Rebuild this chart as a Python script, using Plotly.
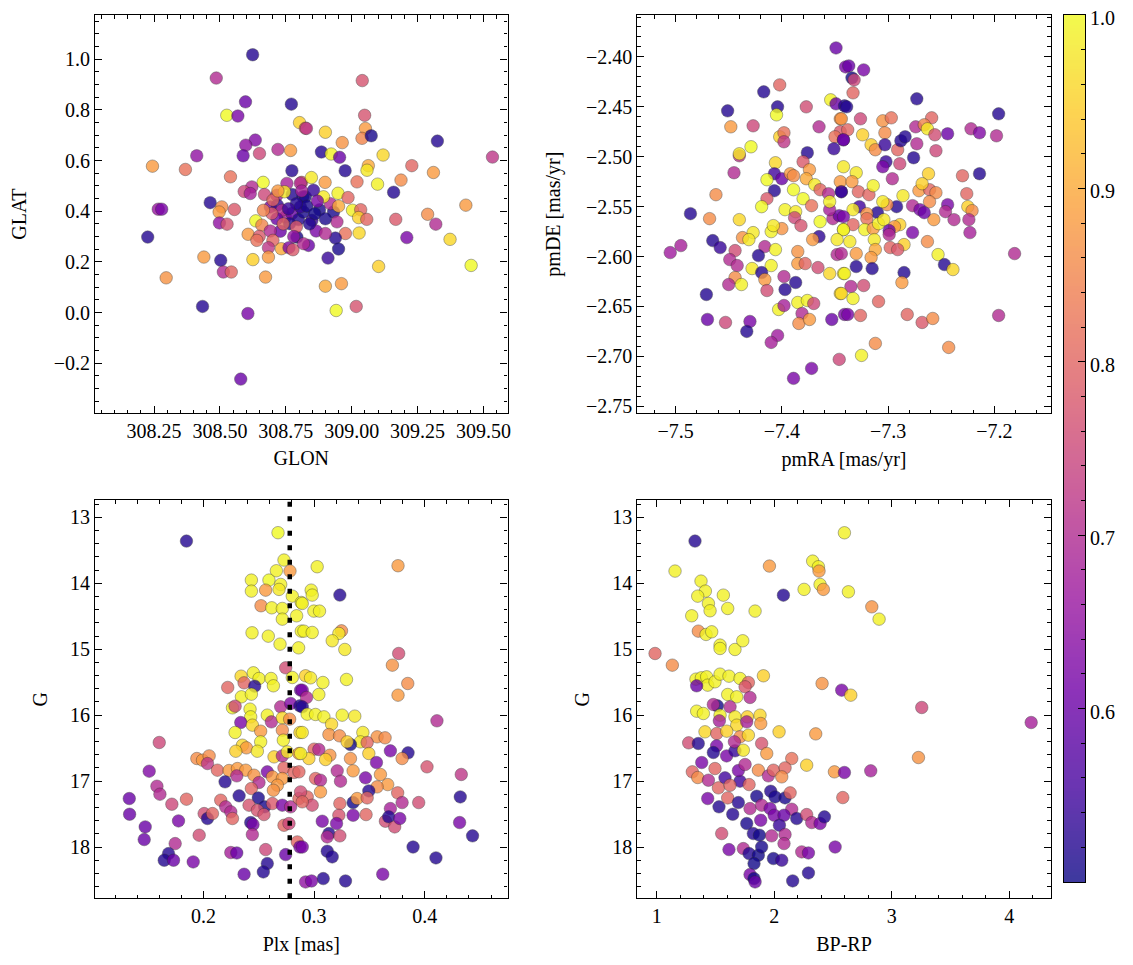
import numpy as np
import plotly.graph_objects as go

# ---------------- data ----------------
# Panel 1: GLON / GLAT / membership probability
glon = [308.624, 308.486, 308.597, 308.771, 308.526, 308.568, 308.802, 308.824, 308.634, 308.598,
        308.588, 308.650, 308.720, 308.768, 308.412, 308.244, 308.369, 308.540, 308.773, 308.664,
        308.754, 308.810, 308.621, 308.592, 308.615, 308.669, 308.716, 308.774, 308.815, 308.463,
        308.266, 308.279, 308.507, 308.497, 308.555, 308.498, 308.527, 308.636, 308.691, 308.718,
        308.748, 308.773, 308.798, 308.659, 308.729, 308.607, 308.649, 308.691, 308.792, 308.226,
        308.701, 308.684, 308.733, 308.762, 308.777, 308.439, 308.625, 308.684, 308.503, 308.513,
        308.543, 308.296, 308.673, 308.434, 308.606, 308.579, 309.040, 309.049, 309.052, 309.039,
        309.074, 308.900, 308.828, 308.964, 308.885, 308.922, 308.954, 308.975, 309.119, 309.063,
        309.058, 309.228, 309.325, 309.534, 309.310, 309.020, 309.098, 309.187, 309.159, 308.847,
        308.899, 308.948, 308.986, 309.003, 309.034, 309.026, 309.057, 309.167, 309.288, 309.433,
        309.319, 309.209, 309.373, 309.028, 308.976, 308.938, 308.950, 308.910, 309.102, 309.453,
        308.900, 308.961, 308.941, 309.017, 308.824, 308.817, 308.849, 308.878, 308.931, 308.944,
        308.865, 308.900, 308.836, 308.919, 308.855, 308.893, 308.805, 308.805, 308.764, 308.735,
        308.716, 308.697, 308.701, 308.745, 308.665, 308.640, 308.817, 308.790,
        308.830, 308.860, 308.790, 308.760, 308.840, 308.870, 308.810, 308.740, 308.900, 308.780,
        308.720, 308.950]
glat = [1.018, 0.926, 0.832, 0.823, 0.779, 0.776, 0.750, 0.728, 0.681, 0.661,
        0.619, 0.628, 0.644, 0.640, 0.619, 0.578, 0.565, 0.536, 0.560, 0.514,
        0.510, 0.514, 0.496, 0.478, 0.470, 0.466, 0.463, 0.466, 0.457, 0.434,
        0.408, 0.408, 0.417, 0.397, 0.407, 0.354, 0.349, 0.362, 0.417, 0.424,
        0.377, 0.391, 0.367, 0.345, 0.321, 0.309, 0.301, 0.322, 0.298, 0.298,
        0.285, 0.256, 0.252, 0.256, 0.248, 0.219, 0.209, 0.219, 0.206, 0.160,
        0.160, 0.137, 0.140, 0.024, -0.004, -0.263, 0.916, 0.779, 0.727, 0.688,
        0.698, 0.712, 0.727, 0.671, 0.634, 0.626, 0.613, 0.560, 0.622, 0.580,
        0.562, 0.580, 0.677, 0.614, 0.553, 0.516, 0.507, 0.523, 0.475, 0.533,
        0.514, 0.471, 0.454, 0.404, 0.406, 0.375, 0.368, 0.368, 0.388, 0.424,
        0.349, 0.296, 0.289, 0.314, 0.312, 0.294, 0.251, 0.215, 0.182, 0.186,
        0.104, 0.114, 0.008, 0.024, 0.457, 0.397, 0.364, 0.406, 0.397, 0.358,
        0.322, 0.312, 0.265, 0.430, 0.483, 0.457, 0.511, 0.417, 0.351, 0.404,
        0.370, 0.391, 0.444, 0.477, 0.404, 0.285, 0.272, 0.338,
        0.420, 0.390, 0.430, 0.410, 0.350, 0.440, 0.480, 0.350, 0.370, 0.300,
        0.480, 0.420]
prob1 = [0.52, 0.70, 0.60, 0.52, 1.00, 0.62, 0.95, 0.78, 0.63, 0.65,
         0.60, 0.75, 0.70, 0.88, 0.65, 0.88, 0.82, 0.82, 0.52, 1.00,
         0.68, 0.78, 0.70, 0.75, 0.68, 0.75, 0.68, 0.52, 0.51, 0.52,
         0.66, 0.62, 0.86, 0.88, 0.78, 0.65, 0.77, 1.00, 0.62, 0.54,
         0.68, 0.60, 0.52, 0.85, 0.60, 0.88, 0.78, 0.70, 0.51, 0.52,
         0.80, 0.72, 0.90, 0.63, 0.78, 0.88, 0.95, 0.88, 0.52, 0.70,
         0.80, 0.87, 0.88, 0.52, 0.62, 0.60, 0.77, 0.77, 0.88, 0.85,
         0.51, 0.95, 0.72, 0.87, 0.52, 0.99, 0.60, 0.52, 0.96, 0.90,
         0.98, 0.80, 0.52, 0.72, 0.88, 0.82, 0.99, 0.86, 0.52, 0.98,
         0.88, 0.99, 0.80, 0.99, 0.80, 0.95, 0.80, 0.78, 0.86, 0.88,
         0.70, 0.62, 0.96, 0.96, 0.82, 0.52, 0.51, 0.54, 0.95, 1.00,
         0.90, 0.88, 1.00, 0.77, 0.51, 0.51, 0.54, 0.51, 0.51, 0.70,
         0.62, 0.70, 0.60, 0.70, 0.54, 0.98, 0.70, 0.54, 0.52, 0.70,
         0.60, 0.78, 0.80, 0.98, 0.85, 0.82, 0.70, 0.78,
         0.51, 0.505, 0.52, 0.54, 0.52, 0.62, 0.68, 0.80, 0.51, 0.65,
         0.88, 0.90]

# Panel 2: proper motions
pmra = [-7.349, -7.340, -7.417, -7.402, -7.451, -7.404, -7.405, -7.377, -7.354, -7.349,
        -7.341, -7.448, -7.427, -7.365, -7.345, -7.345, -7.402, -7.398, -7.398, -7.350,
        -7.342, -7.429, -7.440, -7.440, -7.376, -7.351, -7.380, -7.374, -7.377, -7.445,
        -7.406, -7.407, -7.400, -7.414, -7.392, -7.389, -7.389, -7.407, -7.414, -7.419,
        -7.462, -7.486, -7.468, -7.440, -7.397, -7.387, -7.388, -7.382, -7.380, -7.372,
        -7.369, -7.364, -7.356, -7.344, -7.345, -7.364, -7.352, -7.346, -7.342, -7.365,
        -7.371, -7.400, -7.410, -7.408, -7.427, -7.437, -7.431, -7.465, -7.458, -7.495,
        -7.505, -7.444, -7.416, -7.406, -7.422, -7.449, -7.442, -7.428, -7.410, -7.385,
        -7.385, -7.378, -7.366, -7.355, -7.342, -7.348, -7.419, -7.444, -7.450, -7.438,
        -7.416, -7.414, -7.398, -7.397, -7.387, -7.345, -7.471, -7.403, -7.398, -7.385,
        -7.376, -7.370, -7.381, -7.384, -7.374, -7.470, -7.453, -7.430, -7.433, -7.404,
        -7.410, -7.353, -7.341, -7.346, -7.372, -7.389, -7.337, -7.323, -7.334, -7.332,
        -7.333, -7.339, -7.273, -7.196, -7.326, -7.344, -7.305, -7.297, -7.259, -7.274,
        -7.266, -7.263, -7.256, -7.244, -7.222, -7.214, -7.198, -7.324, -7.303, -7.338,
        -7.342, -7.316, -7.312, -7.303, -7.291, -7.288, -7.284, -7.273, -7.255, -7.276,
        -7.302, -7.305, -7.289, -7.296, -7.262, -7.230, -7.214, -7.342, -7.330, -7.334,
        -7.344, -7.328, -7.318, -7.314, -7.286, -7.271, -7.261, -7.255, -7.268, -7.226,
        -7.225, -7.221, -7.224, -7.223, -7.244, -7.246, -7.238, -7.257, -7.261, -7.277,
        -7.270, -7.266, -7.292, -7.310, -7.301, -7.305, -7.327, -7.333, -7.320, -7.333,
        -7.342, -7.320, -7.342, -7.322, -7.314, -7.309, -7.304, -7.289, -7.294, -7.299,
        -7.299, -7.277, -7.263, -7.285, -7.298, -7.291, -7.313, -7.312, -7.336, -7.330,
        -7.344, -7.316, -7.253, -7.247, -7.239, -7.181, -7.330, -7.315, -7.285, -7.287,
        -7.341, -7.335, -7.323, -7.344, -7.333, -7.309, -7.338, -7.326, -7.282, -7.268,
        -7.258, -7.196, -7.312, -7.325, -7.243, -7.355, -7.348, -7.355]
pmde = [-2.391, -2.410, -2.435, -2.428, -2.454, -2.450, -2.458, -2.450, -2.443, -2.447,
        -2.449, -2.470, -2.469, -2.470, -2.462, -2.475, -2.480, -2.476, -2.485, -2.480,
        -2.483, -2.490, -2.499, -2.497, -2.496, -2.492, -2.505, -2.513, -2.522, -2.516,
        -2.506, -2.517, -2.522, -2.523, -2.517, -2.519, -2.533, -2.534, -2.542, -2.550,
        -2.538, -2.557, -2.562, -2.563, -2.553, -2.555, -2.561, -2.569, -2.542, -2.549,
        -2.528, -2.533, -2.537, -2.535, -2.525, -2.565, -2.562, -2.559, -2.573, -2.580,
        -2.583, -2.572, -2.575, -2.569, -2.576, -2.581, -2.583, -2.584, -2.591, -2.589,
        -2.596, -2.594, -2.590, -2.593, -2.599, -2.603, -2.609, -2.612, -2.609, -2.595,
        -2.607, -2.607, -2.611, -2.617, -2.617, -2.598, -2.616, -2.621, -2.628, -2.628,
        -2.623, -2.634, -2.620, -2.633, -2.626, -2.637, -2.638, -2.653, -2.649, -2.646,
        -2.644, -2.647, -2.657, -2.667, -2.663, -2.663, -2.666, -2.665, -2.675, -2.679,
        -2.686, -2.663, -2.658, -2.703, -2.712, -2.722, -2.409, -2.413, -2.421, -2.423,
        -2.436, -2.450, -2.442, -2.457, -2.462, -2.462, -2.464, -2.461, -2.461, -2.470,
        -2.468, -2.472, -2.478, -2.477, -2.472, -2.476, -2.479, -2.478, -2.476, -2.473,
        -2.483, -2.488, -2.493, -2.488, -2.493, -2.484, -2.480, -2.487, -2.494, -2.501,
        -2.505, -2.510, -2.507, -2.522, -2.517, -2.519, -2.517, -2.510, -2.516, -2.525,
        -2.535, -2.535, -2.538, -2.529, -2.539, -2.534, -2.533, -2.536, -2.527, -2.537,
        -2.550, -2.554, -2.563, -2.576, -2.548, -2.555, -2.563, -2.563, -2.545, -2.549,
        -2.553, -2.556, -2.550, -2.556, -2.548, -2.545, -2.550, -2.553, -2.557, -2.568,
        -2.560, -2.562, -2.573, -2.573, -2.572, -2.567, -2.563, -2.568, -2.570, -2.574,
        -2.578, -2.576, -2.585, -2.588, -2.591, -2.593, -2.583, -2.593, -2.585, -2.597,
        -2.597, -2.601, -2.598, -2.608, -2.613, -2.597, -2.610, -2.612, -2.616, -2.626,
        -2.617, -2.630, -2.629, -2.637, -2.642, -2.645, -2.658, -2.659, -2.658, -2.666,
        -2.662, -2.659, -2.687, -2.699, -2.691, -2.553, -2.583, -2.545]
prob2 = [0.60, 0.62, 0.52, 0.80, 0.52, 0.52, 1.00, 0.76, 0.99, 0.60,
         0.52, 0.88, 0.75, 0.70, 0.87, 0.78, 0.95, 0.82, 0.72, 0.82,
         0.60, 1.00, 0.72, 0.98, 0.52, 0.54, 0.78, 0.88, 0.90, 0.70,
         0.96, 0.55, 0.60, 1.00, 0.88, 0.86, 1.00, 0.52, 0.78, 1.00,
         0.86, 0.52, 0.86, 0.96, 0.99, 0.98, 0.75, 0.77, 1.00, 0.82,
         0.98, 0.80, 0.70, 0.54, 0.88, 1.00, 0.70, 0.60, 0.99, 0.53,
         0.88, 0.87, 0.99, 0.98, 0.98, 0.87, 0.98, 0.52, 0.54, 0.68,
         0.67, 0.76, 0.70, 0.99, 0.52, 0.70, 0.70, 0.98, 0.99, 0.87,
         0.88, 0.80, 0.76, 0.96, 0.98, 0.70, 0.52, 0.86, 0.70, 0.99,
         0.88, 0.76, 0.70, 0.52, 0.52, 0.96, 0.52, 0.99, 0.68, 0.99,
         0.99, 0.75, 0.70, 0.86, 0.88, 0.60, 0.75, 0.62, 0.52, 0.67,
         0.68, 0.60, 0.62, 0.75, 0.62, 0.62, 0.60, 0.62, 0.505, 0.75,
         0.80, 0.52, 0.52, 0.52, 0.75, 0.87, 0.87, 0.82, 0.80, 0.70,
         0.85, 0.98, 0.76, 0.60, 0.70, 0.63, 0.70, 0.95, 0.86, 0.80,
         0.60, 0.95, 0.86, 0.54, 0.80, 0.52, 0.52, 0.70, 0.75, 0.52,
         0.54, 0.62, 0.75, 0.70, 0.95, 0.80, 0.52, 0.98, 0.98, 0.88,
         0.54, 0.80, 0.80, 0.99, 0.98, 0.88, 0.80, 0.86, 0.95, 0.80,
         0.95, 0.86, 0.70, 0.68, 0.62, 0.70, 0.70, 0.88, 0.86, 0.70,
         0.62, 0.60, 0.52, 0.52, 0.86, 0.98, 0.55, 0.98, 0.87, 0.80,
         0.62, 0.82, 0.99, 0.99, 0.88, 0.99, 0.98, 0.95, 0.88, 0.60,
         0.70, 0.62, 0.86, 0.95, 0.80, 0.78, 0.98, 0.90, 0.98, 0.88,
         0.70, 0.88, 0.99, 0.52, 0.96, 0.70, 0.52, 0.52, 0.52, 0.88,
         0.99, 0.70, 0.76, 0.96, 0.99, 0.80, 0.62, 0.80, 0.80, 0.78,
         0.86, 0.70, 0.86, 0.99, 0.86, 0.68, 0.98, 0.99]

# Panel 3: parallax / G magnitude
plx = [0.1846, 0.2674, 0.2728, 0.2659, 0.2782, 0.2433, 0.2592, 0.2698, 0.2433, 0.2562,
       0.2683, 0.2803, 0.2884, 0.2520, 0.2617, 0.2713, 0.2842, 0.2713, 0.2439, 0.2586,
       0.2692, 0.2860, 0.2884, 0.2743, 0.2340, 0.2451, 0.2502, 0.2611, 0.2632, 0.2803,
       0.2367, 0.2463, 0.2219, 0.2343, 0.2433, 0.2878, 0.2262, 0.2286, 0.2421, 0.2698,
       0.2788, 0.2872, 0.2427, 0.2577, 0.2337, 0.2442, 0.2517, 0.2614, 0.2713, 0.2779,
       0.2286, 0.2517, 0.2713, 0.2872, 0.2722, 0.2352, 0.2388, 0.2292, 0.2487, 0.2638,
       0.2713, 0.2758, 0.2863, 0.1600, 0.1940, 0.1991, 0.2051, 0.2036, 0.2126, 0.1509,
       0.2231, 0.2307, 0.2382, 0.2301, 0.2457, 0.2577, 0.2502, 0.2728, 0.2818, 0.2863,
       0.2623, 0.2713, 0.2668, 0.2632, 0.1579, 0.1606, 0.1329, 0.1332, 0.1714, 0.1846,
       0.2195, 0.2322, 0.2433, 0.2496, 0.2553, 0.2156, 0.2201, 0.2247, 0.2262, 0.2412,
       0.2487, 0.2547, 0.2623, 0.2713, 0.2788, 0.2863, 0.2006, 0.2036, 0.2081, 0.1774,
       0.1473, 0.1464, 0.1744, 0.1961, 0.2427, 0.2448, 0.2442, 0.2728, 0.2773, 0.1684,
       0.1645, 0.1729, 0.1907, 0.2247, 0.2301, 0.2562, 0.2743, 0.2848, 0.2872, 0.2577,
       0.2541, 0.2367, 0.2923, 0.3028, 0.3759, 0.3233, 0.2974, 0.2983, 0.2893, 0.2998,
       0.3049, 0.2908, 0.2983, 0.3248, 0.3224, 0.3164, 0.3278, 0.3765, 0.3708, 0.3847,
       0.3759, 0.2923, 0.2968, 0.3080, 0.3043, 0.3293, 0.2893, 0.2932, 0.2893, 0.2938,
       0.3013, 0.3089, 0.3158, 0.3254, 0.3368, 0.4111, 0.2893, 0.3134, 0.3230, 0.3441,
       0.3570, 0.3642, 0.3419, 0.3329, 0.3480, 0.3299, 0.3000, 0.3043, 0.3143, 0.3104,
       0.2953, 0.2878, 0.3495, 0.3329, 0.3564, 0.3690, 0.3850, 0.3796, 0.4021, 0.4331,
       0.3353, 0.3209, 0.3239, 0.3465, 0.3600, 0.3666, 0.3570, 0.3495, 0.3756, 0.3796,
       0.3690, 0.3946, 0.4322, 0.3013, 0.3058, 0.3058, 0.2938, 0.2878, 0.2983, 0.2893,
       0.3233, 0.3353, 0.3389, 0.3480, 0.3224, 0.3203, 0.3134, 0.3119, 0.3233, 0.3353,
       0.3470, 0.3074, 0.3645, 0.3675, 0.3729, 0.3775, 0.4316, 0.4433, 0.2893, 0.3119,
       0.3164, 0.3895, 0.4102, 0.3621, 0.3083, 0.2977, 0.3284]
gmag3 = [13.360, 13.233, 13.648, 13.810, 13.815, 13.952, 13.952, 14.018, 14.119, 14.104,
         14.093, 14.195, 14.291, 14.341, 14.372, 14.382, 14.493, 14.544, 14.751, 14.802,
         14.923, 14.979, 14.726, 15.282, 15.409, 15.358, 15.444, 15.444, 15.555, 15.429,
         15.510, 15.560, 15.580, 15.722, 15.682, 15.621, 15.889, 15.864, 15.909, 15.874,
         15.823, 15.859, 16.026, 16.000, 16.112, 16.152, 16.243, 16.102, 16.041, 16.061,
         16.263, 16.405, 16.228, 16.263, 16.380, 16.456, 16.496, 16.547, 16.547, 16.633,
         16.618, 16.557, 16.582, 16.415, 16.658, 16.683, 16.618, 16.734, 16.835, 16.850,
         16.840, 16.810, 16.835, 16.921, 16.911, 16.860, 17.022, 16.800, 16.870, 16.860,
         16.936, 16.961, 17.063, 17.139, 17.078, 17.199, 17.265, 17.503, 17.351, 17.275,
         17.012, 17.224, 17.113, 17.255, 17.391, 17.290, 17.391, 17.467, 17.568, 17.366,
         17.442, 17.508, 17.341, 17.366, 17.391, 17.265, 17.493, 17.568, 17.493, 17.604,
         17.695, 17.887, 17.948, 17.821, 17.629, 17.660, 17.811, 17.670, 17.644, 18.100,
         18.201, 18.201, 18.226, 18.084, 18.090, 18.039, 18.115, 17.923, 18.000, 18.251,
         18.378, 18.413, 18.530, 13.749, 13.734, 14.179, 14.104, 14.179, 14.306, 14.422,
         14.422, 14.726, 14.746, 14.721, 14.761, 14.872, 15.004, 15.065, 15.242, 15.520,
         15.697, 15.403, 15.434, 15.505, 15.687, 15.459, 15.621, 15.732, 15.874, 15.985,
         15.990, 16.026, 16.137, 16.000, 16.015, 16.086, 16.263, 16.294, 16.314, 16.263,
         16.329, 16.344, 16.405, 16.446, 16.415, 16.405, 16.516, 16.521, 16.608, 16.673,
         16.658, 16.582, 16.582, 16.658, 16.719, 16.542, 16.572, 16.658, 16.784, 16.900,
         16.845, 16.845, 17.002, 16.951, 16.900, 17.053, 17.088, 17.149, 17.179, 17.326,
         17.417, 17.326, 17.240, 16.961, 16.987, 17.164, 17.240, 17.164, 17.366, 17.315,
         17.341, 17.326, 17.265, 17.255, 17.518, 17.644, 17.796, 17.847, 17.831, 17.518,
         17.508, 17.609, 17.609, 17.543, 17.695, 17.568, 17.629, 17.831, 18.000, 18.064,
         18.150, 18.000, 18.165, 18.413, 18.479, 18.515, 18.515]
prob3 = [0.52, 1.00, 0.99, 0.99, 0.88, 0.99, 1.00, 0.99, 0.99, 0.88,
         0.98, 0.99, 0.99, 0.86, 0.99, 0.99, 0.99, 0.99, 0.99, 0.99,
         0.99, 0.99, 0.99, 0.76, 0.96, 0.99, 0.99, 0.99, 0.99, 0.99,
         0.80, 0.52, 0.80, 0.99, 0.99, 0.60, 0.99, 0.75, 0.99, 0.70,
         0.63, 0.52, 0.99, 0.99, 0.62, 0.96, 0.88, 0.70, 0.96, 0.86,
         0.99, 0.99, 0.86, 0.96, 0.99, 0.96, 0.88, 0.95, 0.98, 0.95,
         0.70, 0.98, 0.88, 0.75, 0.86, 0.88, 0.86, 0.72, 0.80, 0.63,
         0.88, 0.88, 0.88, 0.70, 0.87, 0.62, 0.70, 0.80, 0.80, 0.80,
         0.88, 0.88, 0.88, 0.87, 0.70, 0.70, 0.60, 0.60, 0.75, 0.80,
         0.52, 0.52, 0.80, 0.51, 0.51, 0.80, 0.70, 0.70, 0.80, 0.77,
         0.77, 0.77, 0.78, 0.62, 0.70, 0.80, 0.76, 0.52, 0.80, 0.62,
         0.60, 0.60, 0.70, 0.76, 0.52, 0.62, 0.70, 0.80, 0.75, 0.52,
         0.52, 0.60, 0.62, 0.68, 0.60, 0.75, 0.60, 0.80, 0.62, 0.52,
         0.52, 0.60, 0.65, 0.99, 0.88, 0.52, 0.99, 0.99, 0.99, 0.99,
         0.99, 0.99, 0.99, 0.86, 0.98, 0.98, 0.98, 0.76, 0.87, 0.86,
         0.88, 0.95, 0.98, 0.99, 0.99, 0.99, 0.62, 0.70, 0.52, 0.99,
         0.99, 0.99, 0.96, 0.99, 0.98, 0.70, 0.98, 0.87, 0.86, 0.98,
         0.87, 0.86, 0.98, 0.505, 0.80, 0.95, 0.80, 0.70, 0.87, 0.95,
         0.95, 0.99, 0.95, 0.87, 0.62, 0.62, 0.52, 0.86, 0.77, 0.72,
         0.88, 0.70, 0.70, 0.62, 0.88, 0.88, 0.86, 0.52, 0.80, 0.70,
         0.68, 0.76, 0.52, 0.80, 0.70, 0.88, 0.80, 0.76, 0.76, 0.80,
         0.80, 0.505, 0.88, 0.80, 0.77, 0.62, 0.52, 0.70, 0.76, 0.62,
         0.80, 0.62, 0.76, 0.52, 0.76, 0.62, 0.62, 0.52, 0.62, 0.52,
         0.52, 0.52, 0.52, 0.62, 0.52, 0.62, 0.52]
plx_ref = 0.278  # vertical reference line (mean parallax)

# Panel 4: colour-magnitude diagram
bprp = [1.326, 1.156, 1.377, 1.414, 1.349, 1.440, 1.454, 1.298, 1.567, 1.604,
        1.837, 1.354, 1.420, 1.468, 1.539, 1.539, 1.666, 1.732, 1.959, 2.078,
        2.327, 2.376, 2.381, 2.390, 2.418, 2.254, 0.986, 1.133, 1.334, 1.380,
        1.425, 1.434, 1.496, 1.539, 1.615, 1.709, 1.780, 1.752, 1.908, 1.340,
        1.604, 1.681, 1.794, 2.407, 1.340, 1.397, 1.516, 1.482, 1.624, 1.539,
        1.533, 1.666, 1.681, 1.771, 1.766, 1.879, 1.885, 2.041, 2.353, 1.411,
        1.511, 1.596, 1.709, 1.780, 1.272, 1.354, 1.510, 1.482, 1.595, 1.666,
        1.661, 1.737, 1.893, 1.936, 2.149, 2.276, 2.512, 1.383, 1.303, 1.349,
        1.440, 1.496, 1.581, 1.709, 1.695, 1.752, 1.865, 1.950, 1.993, 2.092,
        2.064, 1.525, 1.624, 1.786, 1.851, 1.970, 2.007, 2.092, 2.135, 1.434,
        1.530, 1.604, 1.695, 1.794, 1.893, 1.965, 2.149, 1.647, 1.766, 1.885,
        2.000, 2.083, 2.044, 2.191, 2.276, 2.319, 2.390, 2.427, 1.553, 1.822,
        1.874, 1.978, 2.092, 2.083, 1.615, 1.737, 1.786, 1.865, 1.893, 1.828,
        1.993, 2.064, 2.234, 2.291, 2.518, 2.291, 2.157, 1.794, 1.828, 1.837,
        2.597, 2.631, 2.830, 2.892, 2.574, 2.651, 3.255, 4.186, 3.227, 2.597,
        2.821, 2.583]
gmag4 = [13.360, 13.815, 13.967, 14.119, 14.195, 14.306, 14.417, 14.493, 14.180, 14.382,
         14.422, 14.726, 14.776, 14.736, 14.938, 14.989, 15.004, 14.872, 13.739, 14.180,
         13.664, 13.749, 13.815, 14.018, 14.093, 14.093, 15.065, 15.242, 15.454, 15.434,
         15.419, 15.545, 15.494, 15.378, 15.409, 15.444, 15.505, 15.570, 15.403, 15.555,
         15.687, 15.722, 15.732, 15.520, 15.940, 15.975, 15.859, 15.839, 15.874, 16.000,
         16.086, 16.026, 16.152, 16.026, 16.102, 16.000, 16.127, 16.253, 16.284, 16.253,
         16.279, 16.243, 16.329, 16.304, 16.420, 16.430, 16.466, 16.567, 16.618, 16.542,
         16.405, 16.532, 16.430, 16.582, 16.658, 16.759, 16.860, 16.719, 16.860, 16.946,
         16.987, 16.810, 16.951, 17.002, 16.840, 16.749, 16.835, 16.921, 16.835, 16.800,
         16.936, 17.103, 17.063, 17.053, 17.230, 17.154, 17.240, 17.255, 17.179, 17.265,
         17.391, 17.255, 17.326, 17.417, 17.366, 17.417, 17.427, 17.503, 17.644, 17.594,
         17.518, 17.518, 17.670, 17.568, 17.508, 17.629, 17.644, 17.543, 17.796, 17.796,
         17.821, 17.831, 17.811, 17.948, 18.039, 18.024, 18.100, 18.125, 17.999, 18.251,
         18.175, 18.201, 18.074, 18.090, 18.000, 18.393, 18.514, 18.418, 18.479, 18.530,
         13.234, 14.129, 14.357, 14.544, 15.621, 15.697, 15.884, 16.112, 16.643, 16.870,
         16.845, 17.250]
prob4 = [0.52, 0.99, 0.99, 0.99, 0.99, 0.99, 0.99, 0.99, 0.99, 0.99,
         0.99, 0.86, 0.99, 0.99, 0.99, 0.99, 0.99, 0.99, 0.88, 0.52,
         0.99, 0.99, 0.88, 0.99, 0.88, 0.99, 0.80, 0.86, 0.99, 0.99,
         0.99, 0.99, 0.99, 0.99, 0.99, 0.99, 0.80, 0.78, 0.95, 0.60,
         0.99, 0.99, 0.70, 0.87, 0.99, 0.99, 0.505, 0.70, 0.70, 0.99,
         0.68, 0.98, 0.96, 0.95, 0.68, 0.96, 0.88, 0.95, 0.88, 0.96,
         0.80, 0.95, 0.86, 0.96, 0.76, 0.52, 0.62, 0.52, 0.62, 0.54,
         0.70, 0.98, 0.77, 0.88, 0.82, 0.95, 0.88, 0.62, 0.80, 0.86,
         0.70, 0.80, 0.55, 0.55, 0.62, 0.70, 0.86, 0.70, 0.80, 0.80,
         0.86, 0.80, 0.80, 0.80, 0.51, 0.52, 0.51, 0.51, 0.80, 0.62,
         0.52, 0.80, 0.52, 0.70, 0.70, 0.62, 0.70, 0.52, 0.51, 0.62,
         0.62, 0.60, 0.54, 0.52, 0.76, 0.70, 0.62, 0.52, 0.76, 0.52,
         0.505, 0.70, 0.70, 0.70, 0.62, 0.70, 0.52, 0.505, 0.51, 0.505,
         0.51, 0.54, 0.70, 0.62, 0.62, 0.52, 0.52, 0.62, 0.505, 0.60,
         0.99, 0.99, 0.87, 0.99, 0.62, 0.95, 0.75, 0.68, 0.87, 0.62,
         0.68, 0.80]

prob_min, prob_max = 0.5, 1.0
cbar_ticks = [0.6, 0.7, 0.8, 0.9, 1.0]

for a, b, c in [(glon, glat, prob1), (pmra, pmde, prob2), (plx, gmag3, prob3), (bprp, gmag4, prob4)]:
    assert len(a) == len(b) == len(c), (len(a), len(b), len(c))

# ---------------- layout geometry ----------------
# the page body adds an 8 px margin, so the figure is drawn at (8, 8)
OFF = 8
W, H = 1133 - OFF, 965 - OFF
FONT = "Liberation Serif"
FS = 20


def xd(a, b):
    return [(a - OFF) / W, (b - OFF) / W]


def yd(top, bottom):
    return [1 - (bottom - OFF) / H, 1 - (top - OFF) / H]


COLX = [(95, 507.5), (637.3, 1050.7)]
ROWY = [(15, 413.3), (500, 898.3)]

MARKER = dict(size=12.5, opacity=0.8, colorscale="Plasma", cmin=prob_min, cmax=prob_max,
              line=dict(color="rgba(40,40,40,0.9)", width=0.5), showscale=False)

fig = go.Figure()


def add_scatter(x, y, c, ax):
    m = dict(MARKER)
    m["color"] = c
    fig.add_trace(go.Scatter(x=x, y=y, mode="markers", marker=m,
                             xaxis="x" + ax, yaxis="y" + ax, showlegend=False,
                             hoverinfo="skip"))


add_scatter(glon, glat, prob1, "")
add_scatter(pmra, pmde, prob2, "2")
add_scatter(plx, gmag3, prob3, "3")
add_scatter(bprp, gmag4, prob4, "4")

# colour bar drawn as a thin heatmap on its own axis
cb_vals = np.linspace(prob_min, prob_max, 300)
fig.add_trace(go.Heatmap(z=[[v] for v in cb_vals], x=[0], y=cb_vals, colorscale="Plasma",
                         zmin=prob_min, zmax=prob_max, showscale=False, opacity=0.8,
                         xaxis="x5", yaxis="y5", hoverinfo="skip"))


def axis(domain, rng, dtick, minor, fmt, title, anchor, standoff, tick0=None, side=None):
    d = dict(domain=domain, range=rng, dtick=dtick, tickformat=fmt, anchor=anchor,
             ticks="inside", ticklen=7, tickwidth=1, tickcolor="black",
             showline=True, linecolor="black", linewidth=1.1, mirror="allticks",
             showgrid=False, zeroline=False, tickangle=0,
             tickfont=dict(family=FONT, size=FS, color="black"),
             minor=dict(ticks="inside", ticklen=3.5, tickwidth=0.9, tickcolor="black",
                        dtick=minor, showgrid=False),
             title=dict(text=title, font=dict(family=FONT, size=FS, color="black"),
                        standoff=standoff),
             automargin=False)
    if tick0 is not None:
        d["tick0"] = tick0
        d["minor"]["tick0"] = tick0
    if side:
        d["side"] = side
    return d


lay = dict(width=W, height=H, margin=dict(l=0, r=0, t=0, b=0),
           plot_bgcolor="white", paper_bgcolor="white", showlegend=False)

lay["xaxis"] = axis(xd(*COLX[0]), [308.026, 309.591], 0.25, 0.05, ".2f", "GLON", "y", 9, tick0=308.25)
lay["yaxis"] = axis(yd(*ROWY[0]), [-0.398, 1.175], 0.2, 0.05, ".1f", "GLAT", "x", 23, tick0=0)
lay["xaxis2"] = axis(xd(*COLX[1]), [-7.536, -7.147], 0.1, 0.02, ".1f", "pmRA [mas/yr]", "y2", 10, tick0=-7.5)
lay["yaxis2"] = axis(yd(*ROWY[0]), [-2.757, -2.358], 0.05, 0.01, ".2f", "pmDE [mas/yr]", "x2", 19, tick0=-2.4)
lay["xaxis3"] = axis(xd(*COLX[0]), [0.1019, 0.4749], 0.1, 0.02, ".1f", "Plx [mas]", "y3", 10, tick0=0.2)
lay["yaxis3"] = axis(yd(*ROWY[1]), [18.778, 12.737], 1, 0.2, "d", "G", "x3", 16, tick0=13)
lay["xaxis4"] = axis(xd(*COLX[1]), [0.835, 4.352], 1, 0.2, "d", "BP-RP", "y4", 10, tick0=1)
lay["yaxis4"] = axis(yd(*ROWY[1]), [18.778, 12.737], 1, 0.2, "d", "G", "x4", 17, tick0=13)

# colour bar axes
lay["xaxis5"] = dict(domain=xd(1064, 1085), range=[-0.5, 0.5], anchor="y5", showticklabels=False,
                     ticks="", showline=True, linecolor="black", linewidth=1.1, mirror=True,
                     showgrid=False, zeroline=False)
cb_axis = axis(yd(15, 882), [prob_min, prob_max], None, 0.02, ".1f", "", "x5", 0, side="right")
cb_axis.pop("dtick")
cb_axis["tickvals"] = cbar_ticks
cb_axis["mirror"] = True
cb_axis["minor"]["tick0"] = 0.5
cb_axis["ticklabelshift"] = 3
cb_axis["ticklabeloverflow"] = "allow"
lay["yaxis5"] = cb_axis

fig.update_layout(**lay)

# vertical dotted reference line in the parallax panel
fig.add_shape(type="line", xref="x3", yref="y3 domain", x0=plx_ref, x1=plx_ref, y0=0, y1=1,
              line=dict(color="black", width=4.5, dash="5px,9.5px"))

fig.write_html("out.html")
